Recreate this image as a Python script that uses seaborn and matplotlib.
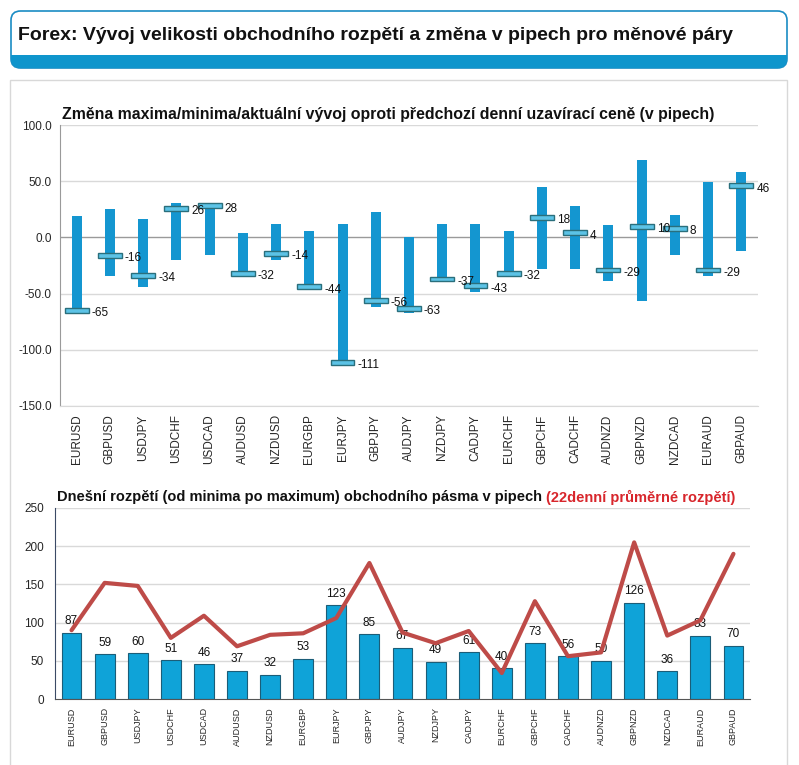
import numpy as np
import pandas as pd
import matplotlib
matplotlib.use("Agg")
import matplotlib.pyplot as plt
from matplotlib.patches import FancyBboxPatch, Rectangle
import seaborn as sns

PAIRS = ["EURUSD", "GBPUSD", "USDJPY", "USDCHF", "USDCAD", "AUDUSD", "NZDUSD",
         "EURGBP", "EURJPY", "GBPJPY", "AUDJPY", "NZDJPY", "CADJPY", "EURCHF",
         "GBPCHF", "CADCHF", "AUDNZD", "GBPNZD", "NZDCAD", "EURAUD", "GBPAUD"]
HIGH = [19, 25, 16, 31, 30, 4, 12, 6, 12, 23, 0, 12, 12, 6, 45, 28, 11, 69, 20, 49, 58]
LOW = [-68, -34, -44, -20, -16, -33, -20, -47, -111, -62, -67, -37, -49, -34, -28, -28, -39, -57, -16, -34, -12]
CURRENT = [-65, -16, -34, 26, 28, -32, -14, -44, -111, -56, -63, -37, -43, -32, 18, 4, -29, 10, 8, -29, 46]
RANGE_TODAY = [87, 59, 60, 51, 46, 37, 32, 53, 123, 85, 67, 49, 61, 40, 73, 56, 50, 126, 36, 83, 70]
RANGE_AVG22 = [90, 152, 148, 80, 109, 69, 84, 86, 106, 178, 87, 73, 89, 34, 128, 56, 61, 205, 83, 103, 190]

TOP_TICKS = [-150, -100, -50, 0, 50, 100]
BOTTOM_TICKS = [0, 50, 100, 150, 200, 250]

BLUE = "#1496d0"
BAR_BLUE = "#0fa3d8"
BAR_EDGE = "#1b5d78"
RED = "#be4b48"

sns.set_style("white")
plt.rcParams["font.family"] = ["Liberation Sans", "DejaVu Sans"]

W, H = 799, 765
fig = plt.figure(figsize=(W / 100, H / 100), dpi=100)
fig.patch.set_facecolor("white")


def fx(px):
    return px / W


def fy(py):
    return 1 - py / H


# content panel (behind everything)
panel = Rectangle((fx(10), fy(790)), fx(777), fy(80) - fy(790),
                  transform=fig.transFigure, facecolor="none",
                  edgecolor="#d8d8d8", linewidth=1.0, zorder=-5)
fig.patches.append(panel)

# header box
box = FancyBboxPatch((fx(11), fy(68)), fx(776), fy(11) - fy(68),
                     boxstyle="round,pad=0,rounding_size=0.012",
                     transform=fig.transFigure, facecolor="white",
                     edgecolor="#1a8cc4", linewidth=1.2, zorder=1)
fig.patches.append(box)
strip = Rectangle((fx(11), fy(68)), fx(776), fy(55) - fy(68),
                  transform=fig.transFigure, facecolor="#0f95cc",
                  edgecolor="none", zorder=2)
fig.patches.append(strip)
strip.set_clip_path(box)
fig.text(fx(18), fy(36), "Forex: Vývoj velikosti obchodního rozpětí a změna v pipech pro měnové páry",
         fontsize=14, fontweight="bold", color="#111111", va="center", ha="left")

x = np.arange(len(PAIRS))

# ---- top chart: high/low range and current change
ax1 = fig.add_axes([fx(60), fy(406), fx(758) - fx(60), fy(125) - fy(406)])
ax1.set_facecolor("none")
heights = np.array(HIGH) - np.array(LOW)
ax1.bar(x, heights, bottom=LOW, width=0.3, color=BLUE, edgecolor="none", zorder=3)
ax1.bar(x, 4.4, bottom=np.array(CURRENT) - 2.2, width=0.72, color="#5cc3e6",
        edgecolor="#2a6f7c", linewidth=1.0, zorder=4)
for xi, c in zip(x, CURRENT):
    ax1.text(xi + 0.45, c - 2.5, f"{c}", fontsize=8.5, va="center", ha="left",
             color="#111111", zorder=5)
ax1.set_xlim(-0.5, len(PAIRS) - 0.5)
ax1.set_ylim(-150, 100)
ax1.set_yticks(TOP_TICKS)
ax1.set_yticklabels([f"{t:.1f}" for t in TOP_TICKS], fontsize=8.5)
ax1.set_xticks(x)
ax1.set_xticklabels(PAIRS, rotation=90, fontsize=8.5)
ax1.tick_params(axis="both", length=0, pad=6)
for t in TOP_TICKS:
    ax1.axhline(t, color="#9a9a9a" if t == 0 else "#d9d9d9", linewidth=1.0, zorder=1)
for s in ["top", "right"]:
    ax1.spines[s].set_visible(False)
ax1.spines["left"].set_color("#9a9a9a")
ax1.spines["bottom"].set_color("#d9d9d9")
fig.text(fx(62), fy(114),
         "Změna maxima/minima/aktuální vývoj oproti předchozí denní uzavírací ceně (v pipech)",
         fontsize=11.4, fontweight="bold", va="center", ha="left", color="#111111")

# ---- bottom chart: today's range vs 22-day average
ax2 = fig.add_axes([fx(55), fy(699), fx(750) - fx(55), fy(508) - fy(699)])
ax2.set_facecolor("none")
df = pd.DataFrame({"pair": PAIRS, "today": RANGE_TODAY, "avg": RANGE_AVG22, "pos": x})
for t in BOTTOM_TICKS[1:]:
    ax2.axhline(t, color="#d9d9d9", linewidth=1.0, zorder=0)
sns.barplot(data=df, x="pair", y="today", ax=ax2, color=BAR_BLUE, width=0.6,
            edgecolor=BAR_EDGE, linewidth=0.8, saturation=1, zorder=2)
for xi, v in zip(x, RANGE_TODAY):
    ax2.text(xi, v + 7, f"{v}", fontsize=8.5, ha="center", va="bottom",
             color="#111111", zorder=3)
sns.lineplot(data=df, x="pos", y="avg", ax=ax2, color=RED, linewidth=3, zorder=4)
ax2.set_xlim(-0.5, len(PAIRS) - 0.5)
ax2.set_ylim(0, 250)
ax2.set_yticks(BOTTOM_TICKS)
ax2.set_yticklabels([str(t) for t in BOTTOM_TICKS], fontsize=8.5)
ax2.set_xticks(x)
ax2.set_xticklabels(PAIRS, rotation=90, fontsize=6.5)
ax2.set_xticks(np.arange(-0.5, len(PAIRS)), minor=True)
ax2.tick_params(axis="x", which="major", length=0, pad=6)
ax2.tick_params(axis="x", which="minor", length=4, color="#555555")
ax2.tick_params(axis="y", length=4, color="#3b4a66", pad=4)
ax2.set_xlabel("")
ax2.set_ylabel("")
for s in ["top", "right"]:
    ax2.spines[s].set_visible(False)
ax2.spines["left"].set_color("#3b4a66")
ax2.spines["bottom"].set_color("#555555")
t1 = fig.text(fx(57), fy(497), "Dnešní rozpětí (od minima po maximum) obchodního pásma v pipech ",
              fontsize=10.5, fontweight="bold", va="center", ha="left", color="#111111")
fig.canvas.draw()
bb = t1.get_window_extent()
fig.text(bb.x1 / W, fy(497), "(22denní průměrné rozpětí)", fontsize=10.5, fontweight="bold",
         va="center", ha="left", color="#d8262c")

fig.savefig("out.png", dpi=100)
